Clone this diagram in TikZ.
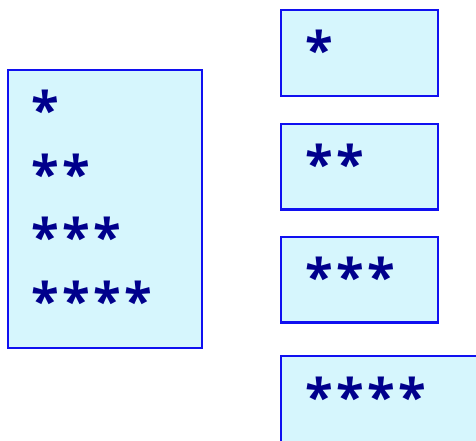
\documentclass[tikz,border=0pt]{standalone}
\usepackage{fontspec}
\newfontfamily\starfont[LetterSpace=7]{Open Sans}
\usetikzlibrary{positioning}
\definecolor{boxfill}{HTML}{D6F6FD}
\definecolor{boxline}{HTML}{1010F0}
\definecolor{starcol}{HTML}{00008C}

\begin{document}
\begin{tikzpicture}[x=0.75pt,y=-0.75pt]
    \tikzset{
        box/.style={draw=boxline,fill=boxfill,line width=1.7pt,rectangle,inner sep=0pt,anchor=north west},
        stars/.style={text=starcol,font=\starfont\bfseries\fontsize{38}{38}\selectfont,inner sep=0pt,anchor=north west}
    }
    \useasboundingbox (0,0) rectangle (476,441);
    \clip (0,0) rectangle (476,441);

    % left box
    \node[box,minimum width=145.5pt,minimum height=208.5pt] (all) at (7,69) {};
    \node[stars] (s1) at (31,90) {*};
    \node[stars] (s2) at (31,154) {**};
    \node[stars] (s3) at (31,217) {***};
    \node[stars] (s4) at (31,281) {****};

    % right boxes
    \node[box,minimum width=117.5pt,minimum height=64.5pt] (one) at (280,9) {};
    \node[box,minimum width=117.5pt,minimum height=64pt] (two) at (280,123) {};
    \node[box,minimum width=117.5pt,minimum height=64pt] (three) at (280,236) {};
    \node[box,minimum width=160pt,minimum height=70pt] (four) at (280,355) {};
    \node[stars] (r1) at (305,30) {*};
    \node[stars] (r2) at (305,144) {**};
    \node[stars] (r3) at (305,257) {***};
    \node[stars] (r4) at (305,377) {****};
\end{tikzpicture}
\end{document}
